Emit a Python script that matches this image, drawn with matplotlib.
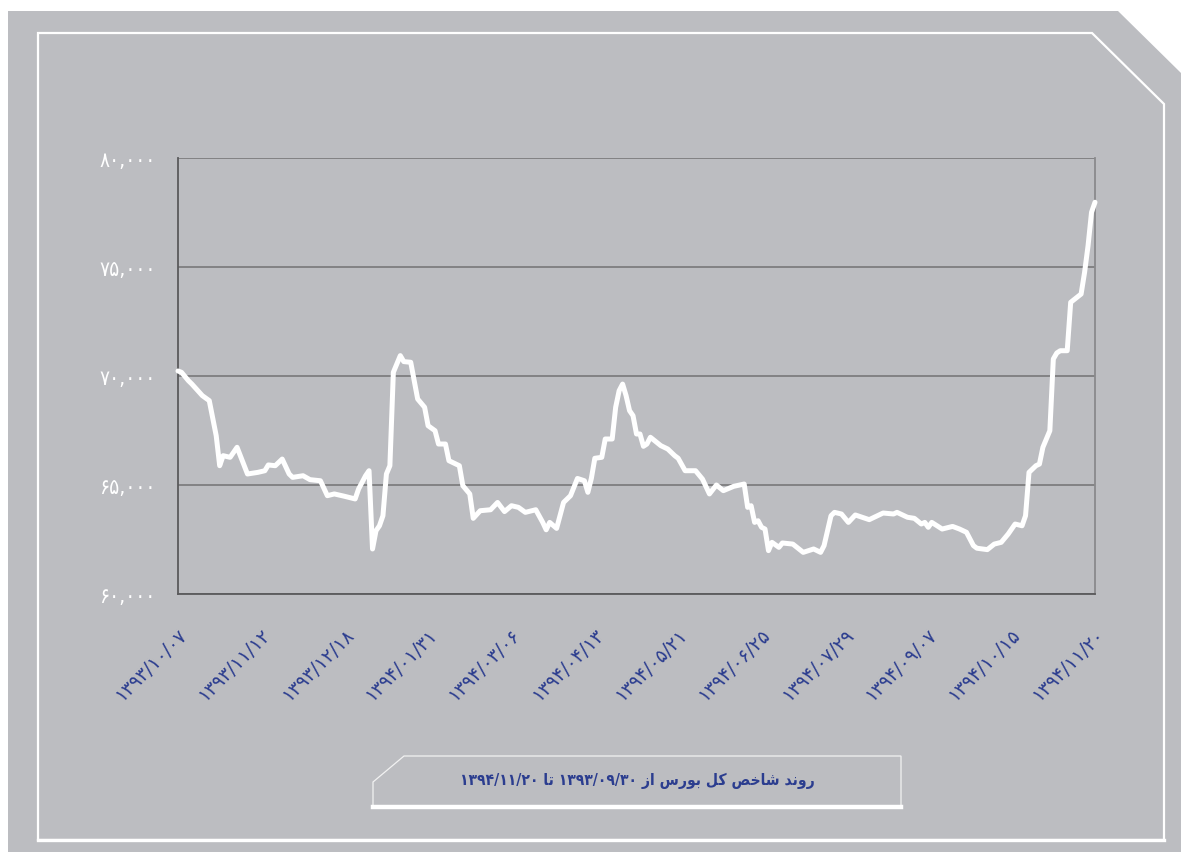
import matplotlib
matplotlib.use("Agg")
import matplotlib.pyplot as plt
from matplotlib.patches import Polygon
from matplotlib.lines import Line2D
import matplotlib.transforms as mtransforms

# ---------------- data ----------------
day = [0, 1, 3, 4, 7, 9, 11, 12, 13, 15, 17, 20, 23, 25, 26, 28, 30, 32, 33, 36,
       38, 41, 43, 45, 48, 51, 52, 54, 55, 56, 57, 58, 59, 60, 61, 62, 64, 65, 67,
       69, 71, 72, 74, 75, 77, 78, 81, 82, 84, 85, 87, 90, 92, 94, 96, 98, 100,
       103, 105, 106, 107, 109, 111, 113, 115, 117, 118, 119, 120, 122, 123, 125,
       126, 127, 128, 129, 130, 131, 132, 133, 134, 135, 136, 139, 141, 143, 144,
       146, 149, 151, 153, 155, 157, 160, 163, 164, 165, 166, 167, 168, 169, 170,
       171, 173, 174, 177, 180, 183, 185, 186, 188, 189, 191, 193, 195, 199, 203,
       206, 207, 210, 212, 214, 215, 216, 217, 220, 223, 225, 227, 229, 230, 233,
       235, 237, 239, 241, 243, 244, 245, 247, 248, 249, 250, 251, 252, 253, 254,
       256, 257, 260, 261, 262, 263, 264]
index_value = [70230, 70170, 69785, 69630, 69100, 68870, 67260, 65885, 66345, 66270,
               66730, 65505, 65580, 65655, 65920, 65885, 66190, 65505, 65350, 65425,
               65245, 65195, 64510, 64590, 64480, 64360, 64820, 65425, 65655, 62065,
               62900, 63130, 63590, 65505, 65885, 70170, 70935, 70660, 70630, 68945,
               68565, 67720, 67490, 66880, 66880, 66115, 65885, 64970, 64590, 63470,
               63820, 63865, 64200, 63780, 64050, 63975, 63745, 63865, 63285, 62945,
               63285, 63010, 64200, 64510, 65300, 65195, 64665, 65300, 66225, 66270,
               67110, 67110, 68565, 69325, 69630, 69100, 68410, 68180, 67340, 67340,
               66775, 66880, 67190, 66805, 66650, 66345, 66225, 65655, 65655, 65270,
               64590, 65000, 64740, 64940, 65045, 63975, 64050, 63285, 63360, 63060,
               62980, 61990, 62370, 62140, 62340, 62290, 61910, 62065, 61910, 62220,
               63590, 63745, 63670, 63285, 63625, 63410, 63715, 63670, 63745, 63520,
               63470, 63210, 63285, 63060, 63285, 62980, 63100, 62980, 62830, 62220,
               62100, 62035, 62290, 62370, 62750, 63210, 63130, 63590, 65580, 65885,
               65960, 66730, 67110, 67490, 70780, 71055, 71160, 71160, 73380, 73760,
               74755, 75975, 77510, 77970]

tick_days = [0, 24, 48, 72, 96, 120, 144, 168, 192, 216, 240, 264]
tick_labels = ['۱۳۹۳/۱۰/۰۷', '۱۳۹۳/۱۱/۱۲', '۱۳۹۳/۱۲/۱۸', '۱۳۹۴/۰۱/۳۱',
               '۱۳۹۴/۰۳/۰۶', '۱۳۹۴/۰۴/۱۳', '۱۳۹۴/۰۵/۲۱', '۱۳۹۴/۰۶/۲۵',
               '۱۳۹۴/۰۷/۲۹', '۱۳۹۴/۰۹/۰۷', '۱۳۹۴/۱۰/۱۵', '۱۳۹۴/۱۱/۲۰']
y_ticks = [60000, 65000, 70000, 75000, 80000]
y_labels = ['۶۰,۰۰۰', '۶۵,۰۰۰', '۷۰,۰۰۰', '۷۵,۰۰۰', '۸۰,۰۰۰']
caption = 'روند شاخص کل بورس از ۱۳۹۳/۰۹/۳۰ تا ۱۳۹۴/۱۱/۲۰'

# ---------------- minimal Persian shaping for display ----------------
FORMS = {  # isolated, final, initial, medial
    'ا': ('\uFE8D', '\uFE8E', None, None),
    'ب': ('\uFE8F', '\uFE90', '\uFE91', '\uFE92'),
    'ت': ('\uFE95', '\uFE96', '\uFE97', '\uFE98'),
    'خ': ('\uFEA5', '\uFEA6', '\uFEA7', '\uFEA8'),
    'د': ('\uFEA9', '\uFEAA', None, None),
    'ر': ('\uFEAD', '\uFEAE', None, None),
    'ز': ('\uFEAF', '\uFEB0', None, None),
    'س': ('\uFEB1', '\uFEB2', '\uFEB3', '\uFEB4'),
    'ش': ('\uFEB5', '\uFEB6', '\uFEB7', '\uFEB8'),
    'ص': ('\uFEB9', '\uFEBA', '\uFEBB', '\uFEBC'),
    'ل': ('\uFEDD', '\uFEDE', '\uFEDF', '\uFEE0'),
    'ن': ('\uFEE5', '\uFEE6', '\uFEE7', '\uFEE8'),
    'و': ('\uFEED', '\uFEEE', None, None),
    'ک': ('\uFB8E', '\uFB8F', '\uFB90', '\uFB91'),
}


def shape_word(w):
    out = []
    for i, ch in enumerate(w):
        if ch not in FORMS:
            out.append(ch)
            continue
        prev = w[i - 1] if i > 0 else None
        nxt = w[i + 1] if i + 1 < len(w) else None
        joins_prev = prev in FORMS and FORMS[prev][2] is not None
        joins_next = nxt in FORMS and FORMS[ch][2] is not None
        iso, fin, ini, med = FORMS[ch]
        if joins_prev and joins_next:
            out.append(med)
        elif joins_prev:
            out.append(fin)
        elif joins_next:
            out.append(ini)
        else:
            out.append(iso)
    return ''.join(out)


def rtl_display(s):
    words = s.split(' ')
    vis = []
    for w in reversed(words):
        if any(c in FORMS for c in w):
            vis.append(shape_word(w)[::-1])
        else:
            vis.append(w)
    return ' '.join(vis)


# ---------------- figure ----------------
W, H = 1181, 853
GRAY = '#bcbdc1'
BLUE = '#2b3d8f'
plt.rcParams['font.family'] = ['DejaVu Sans']
fig = plt.figure(figsize=(W / 100, H / 100), dpi=100, facecolor='white')

bg = fig.add_axes([0, 0, 1, 1])
bg.set_xlim(0, W)
bg.set_ylim(H, 0)
bg.axis('off')
bg.add_patch(Polygon([(8, 12), (1118, 12), (1181, 74), (1181, 853), (8, 853)],
                     closed=True, facecolor=GRAY, edgecolor='none'))
bg.add_patch(Polygon([(38, 34), (1092, 34), (1164, 105), (1164, 841), (38, 841)],
                     closed=True, facecolor='none', edgecolor='white', lw=1.6,
                     joinstyle='miter'))
bg.add_line(Line2D([38, 1164], [841, 841], color='white', lw=2.4))
# caption box
bg.add_patch(Polygon([(404, 757), (901, 757), (901, 808), (373, 808), (373, 783)],
                     closed=True, facecolor='none', edgecolor='#f2f2f2', lw=0.9))
bg.add_line(Line2D([373, 901], [808, 808], color='white', lw=3.2))
bg.text(637, 781, rtl_display(caption), ha='center', va='center',
        fontsize=11.2, fontweight='bold', fontstretch='condensed', color=BLUE)

# ---------------- chart ----------------
ax = fig.add_axes([178 / W, 1 - 595 / H, 917 / W, 436 / H])
ax.set_facecolor('none')
ax.plot(day, index_value, color='white', lw=3.6, solid_joinstyle='round',
        solid_capstyle='round', zorder=5, clip_on=False)
ax.set_xlim(0, 264)
ax.set_ylim(60000, 80000)
ax.set_yticks(y_ticks)
ax.set_yticklabels(y_labels, color='white', fontsize=15, fontstretch='condensed')
ax.tick_params(axis='y', length=0, pad=16)
ax.set_xticks(tick_days)
ax.set_xticklabels([])
ax.tick_params(axis='x', length=0)
ax.grid(axis='y', color='#7d7d7f', lw=1.3)
ax.set_axisbelow(True)
for side in ['left', 'bottom']:
    ax.spines[side].set_color('#5a5a5c')
    ax.spines[side].set_linewidth(1.3)
ax.spines['right'].set_color('#8a8a8c')
ax.spines['right'].set_linewidth(1.3)
ax.spines['top'].set_visible(False)

offset = mtransforms.ScaledTranslation(6 / 100, -37 / 100, fig.dpi_scale_trans)
trans = ax.get_xaxis_transform() + offset
for d, lab in zip(tick_days, tick_labels):
    ax.text(d, 0, lab, transform=trans, rotation=45, rotation_mode='anchor',
            ha='right', va='center', fontsize=13.5, color=BLUE)

fig.savefig('out.png', dpi=100, facecolor='white')
